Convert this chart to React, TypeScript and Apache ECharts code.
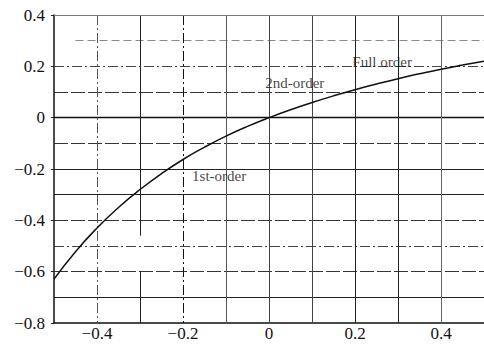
import React, { useEffect, useRef } from "react";
import * as echarts from "echarts";

// Response curve samples (x, y)
const curveX = [-0.5, -0.45, -0.4, -0.35, -0.3, -0.25, -0.2, -0.15, -0.1, -0.05, 0, 0.05, 0.1, 0.15, 0.2, 0.25, 0.3, 0.35, 0.4, 0.45, 0.5];
const curveY = [-0.629, -0.522, -0.43, -0.35, -0.28, -0.218, -0.163, -0.115, -0.072, -0.034, 0, 0.031, 0.059, 0.085, 0.109, 0.131, 0.152, 0.171, 0.189, 0.205, 0.22];

// Curve annotations
const noteTexts = ["Full order", "2nd-order", "1st-order"];
const noteX = [0.263, 0.06, -0.116];
const noteY = [0.217, 0.136, -0.229];

// Tick label values
const xTickVals = [-0.4, -0.2, 0, 0.2, 0.4];
const yTickVals = [-0.8, -0.6, -0.4, -0.2, 0, 0.2, 0.4];

// Grid line positions
const gridYs = [-0.7, -0.6, -0.5, -0.4, -0.3, -0.2, -0.1, 0, 0.1, 0.2, 0.3];
const gridXs = [-0.4, -0.3, -0.2, -0.1, 0, 0.1, 0.2, 0.3, 0.4];

const X_MIN = -0.5;
const X_MAX = 0.5;
const Y_MIN = -0.8;
const Y_MAX = 0.4;

const solid = { type: "solid", color: "#222", width: 1 };
const longDash = { type: [14, 3], color: "#333", width: 1 };
const dashDot = { type: [10, 3, 2, 3], color: "#444", width: 1 };
const faint = { type: [8, 4], color: "#888", width: 1 };

const hStyle: Record<string, any> = {
  "0.3": faint,
  "0.2": dashDot,
  "0.1": longDash,
  "0": { type: "solid", color: "#111", width: 1.4 },
  "-0.1": longDash,
  "-0.2": solid,
  "-0.3": solid,
  "-0.4": longDash,
  "-0.5": dashDot,
  "-0.6": longDash,
  "-0.7": solid,
};

const vStyle: Record<string, any> = {
  "-0.4": { type: [10, 3, 2, 3], color: "#555", width: 1 },
  "-0.3": solid,
  "-0.2": { type: [10, 3, 2, 3], color: "#111", width: 1 },
  "-0.1": { type: "solid", color: "#555", width: 1 },
  "0": { type: "solid", color: "#444", width: 1 },
  "0.1": { type: "solid", color: "#444", width: 1 },
  "0.2": solid,
  "0.3": solid,
  "0.4": { type: "solid", color: "#666", width: 1 },
};

const SERIF = "Liberation Serif";

// Tick label text with a typographic minus
const fmt = (v: number) => {
  const k = Math.round(v * 10);
  if (k === 0) return "0";
  const s = (Math.abs(k) / 10).toFixed(1);
  return k < 0 ? "\u2212" + s : s;
};

export default function App() {
  const ref = useRef<HTMLDivElement>(null);

  useEffect(() => {
    if (!ref.current) return;
    const chart = echarts.init(ref.current, undefined, { renderer: "svg" });

    const gridMarks: any[] = [];
    gridYs.forEach((y) => {
      const key = String(y);
      const startX = y === 0.3 ? -0.45 : X_MIN;
      gridMarks.push([
        { coord: [startX, y], lineStyle: hStyle[key] },
        { coord: [X_MAX, y] },
      ]);
    });
    gridXs.forEach((x) => {
      const key = String(x);
      if (x === -0.3) {
        gridMarks.push([{ coord: [x, Y_MAX], lineStyle: vStyle[key] }, { coord: [x, -0.46] }]);
        gridMarks.push([{ coord: [x, -0.6], lineStyle: vStyle[key] }, { coord: [x, Y_MIN] }]);
      } else {
        gridMarks.push([{ coord: [x, Y_MAX], lineStyle: vStyle[key] }, { coord: [x, Y_MIN] }]);
      }
    });
    gridMarks.push([
      { coord: [X_MIN, Y_MAX], lineStyle: { type: "solid", color: "#777", width: 1.2 } },
      { coord: [X_MAX, Y_MAX] },
    ]);

    chart.setOption({
      animation: false,
      backgroundColor: "#fff",
      grid: { left: 54, right: 0, top: 15, bottom: 24, containLabel: false },
      xAxis: {
        type: "value",
        min: X_MIN,
        max: X_MAX,
        interval: 0.1,
        axisLine: { show: true, onZero: false, lineStyle: { color: "#111", width: 1.5 } },
        axisTick: { show: false },
        splitLine: { show: false },
        axisLabel: { show: false },
      },
      yAxis: {
        type: "value",
        min: Y_MIN,
        max: Y_MAX,
        interval: 0.2,
        axisLine: { show: true, onZero: false, lineStyle: { color: "#111", width: 1.5 } },
        axisTick: { show: true, length: 3, lineStyle: { color: "#222" } },
        splitLine: { show: false },
        axisLabel: { show: false },
      },
      series: [
        {
          type: "line",
          data: [],
          silent: true,
          markLine: {
            silent: true,
            symbol: "none",
            label: { show: false },
            emphasis: { disabled: true },
            data: gridMarks,
          },
        },
        {
          type: "line",
          data: curveX.map((x, i) => [x, curveY[i]]),
          smooth: true,
          showSymbol: false,
          lineStyle: { color: "#111", width: 1.5 },
          z: 5,
        },
        {
          type: "scatter",
          data: noteX.map((x, i) => ({ value: [x, noteY[i]], name: noteTexts[i] })),
          symbolSize: 0,
          itemStyle: { color: "#111" },
          z: 6,
          label: {
            show: true,
            position: "inside",
            formatter: (p: any) => p.name,
            color: "#111",
            fontFamily: SERIF,
            fontSize: 15,
          },
        },
      ],
    });

    // Tick labels placed through the axes' own scales
    const labelStyle = { fontFamily: SERIF, fontSize: 17, fill: "#111" };
    const graphics: any[] = [];
    xTickVals.forEach((v) => {
      const [px, py] = chart.convertToPixel({ gridIndex: 0 }, [v, Y_MIN]) as number[];
      graphics.push({
        type: "text",
        x: px,
        y: py + 2,
        silent: true,
        style: { ...labelStyle, text: fmt(v), align: "center", verticalAlign: "top" },
      });
    });
    yTickVals.forEach((v) => {
      const [px, py] = chart.convertToPixel({ gridIndex: 0 }, [X_MIN, v]) as number[];
      graphics.push({
        type: "text",
        x: px - 9,
        y: py,
        silent: true,
        style: { ...labelStyle, text: fmt(v), align: "right", verticalAlign: "middle" },
      });
    });
    chart.setOption({ graphic: graphics });

    return () => chart.dispose();
  }, []);

  return (
    <div
      ref={ref}
      style={{ position: "fixed", left: 0, top: 0, width: 484, height: 347, background: "#fff" }}
    />
  );
}
